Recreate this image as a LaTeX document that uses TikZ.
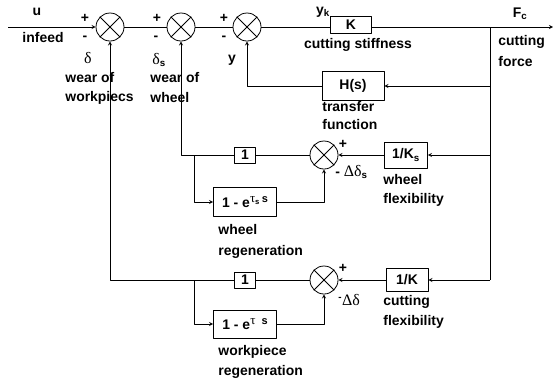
\documentclass[tikz,border=0pt]{standalone}
\usepackage{fontspec}
\setmainfont{Liberation Sans}
\newfontfamily\grk{Liberation Serif}
\newcommand{\gr}[1]{{\grk\mdseries #1}}
\newcommand{\supr}[1]{\raisebox{5bp}{\fontsize{11}{11}\selectfont #1}}
\begin{document}
\begin{tikzpicture}[x=1bp,y=-1bp,>=stealth,line join=round,line width=0.8bp,
  font=\fontsize{14}{15}\selectfont\bfseries,
  sumnode/.style={draw,circle,minimum size=28bp,inner sep=0pt},
  blockbox/.style={draw,inner sep=0pt},
  lbl/.style={inner sep=0pt,anchor=west}]
  \useasboundingbox (0,0) rectangle (553,382);
  % summing points and blocks
  \node[sumnode] (s1) at (110,27) {};
  \node[sumnode] (s2) at (181,27) {};
  \node[sumnode] (s3) at (247,27) {};
  \node[sumnode] (s4) at (324,155) {};
  \node[sumnode] (s5) at (324,280) {};
  \foreach \s in {s1,s2,s3,s4,s5}
    \draw (\s.north west) -- (\s.south east) (\s.north east) -- (\s.south west);
  \node[blockbox,minimum width=41bp,minimum height=17bp] (k) at (351,25) {K};
  \node[blockbox,minimum width=62bp,minimum height=29bp] (h) at (353,86) {H(s)};
  \node[blockbox,minimum width=21bp,minimum height=16bp] (one1) at (245,155) {1};
  \node[blockbox,minimum width=63bp,minimum height=29bp] (reg1) at (245,202) {1 - e\supr{\gr{\fontsize{13}{13}\selectfont τ}\textsubscript{s}\,s}};
  \node[blockbox,minimum width=43bp,minimum height=26bp] (ks) at (406,155) {1/K\textsubscript{s}};
  \node[blockbox,minimum width=21bp,minimum height=16bp] (one2) at (245,280) {1};
  \node[blockbox,minimum width=63bp,minimum height=28bp] (reg2) at (245,324) {1 - e\supr{\gr{\fontsize{13}{13}\selectfont τ}\ \ s}};
  \node[blockbox,minimum width=42bp,minimum height=23bp] (kk) at (407,280) {1/K};
  \coordinate (in) at (8,27);
  \coordinate (out) at (553,27);
  \coordinate (fc) at (490,27);
  \coordinate (hb) at (490,86);
  \coordinate (wb) at (490,155);
  \coordinate (kb) at (490,280);
  \coordinate (b1) at (194,155);
  \coordinate (b2) at (194,280);
  % main path
  \draw[->] (in) -- (s1.west);
  \draw (s1.east) -- (s2.west) (s2.east) -- (s3.west) (s3.east) -- (k.west |- s3);
  \draw[->] (k.east |- fc) -- (out);
  \draw (fc) -- (kb);
  \draw[->] (hb) -- (h.east);
  \draw[->] (h.west) -| (s3.south);
  % wheel loop
  \draw[->] (wb) -- (ks.east);
  \draw[->] (ks.west) -- (s4.east);
  \draw (s4.west) -- (one1.east);
  \draw[->] (one1.west) -| (s2.south);
  \draw[->] (b1) |- (reg1.west);
  \draw[->] (reg1.east) -| (s4.south);
  % workpiece loop
  \draw[->] (kb) -- (kk.east);
  \draw[->] (kk.west) -- (s5.east);
  \draw (s5.west) -- (one2.east);
  \draw[->] (one2.west) -| (s1.south);
  \draw[->] (b2) |- (reg2.west);
  \draw[->] (reg2.east) -| (s5.south);
  % texts
  \node (u) at (37,12) {u};
  \node (infeed) at (43,38) {infeed};
  \node at (85,18) {+};
  \node at (85,38) {-};
  \node (d) at (88,58) {\gr{\fontsize{16}{16}\selectfont δ}};
  \node[lbl] at (65,78) {wear of};
  \node[lbl] at (65,98) {workpiecs};
  \node at (157,18) {+};
  \node at (156,38) {-};
  \node (ds) at (159,60) {\gr{\fontsize{16}{16}\selectfont δ}\textsubscript{s}};
  \node[lbl] at (150,78) {wear of};
  \node[lbl] at (150,98) {wheel};
  \node at (224,18) {+};
  \node at (224,38) {-};
  \node (y) at (232,60) {y};
  \node (yk) at (323,12) {y\textsubscript{k}};
  \node at (358,45) {cutting stiffness};
  \node (fclbl) at (520,14) {F\textsubscript{c}};
  \node[lbl] at (498,42) {cutting};
  \node[lbl] at (498,62) {force};
  \node[lbl] at (322,107) {transfer};
  \node[lbl] at (322,125) {function};
  \node at (343,144) {+};
  \node[lbl] at (335,172) {- \gr{\fontsize{16}{16}\selectfont Δδ}\textsubscript{s}};
  \node[lbl] at (383,180) {wheel};
  \node[lbl] at (383,200) {flexibility};
  \node[lbl] at (218,230) {wheel};
  \node[lbl] at (218,252) {regeneration};
  \node at (343,268) {+};
  \node[lbl] at (338,300) {\textsuperscript{-}\gr{\fontsize{16}{16}\selectfont Δδ}};
  \node[lbl] at (383,302) {cutting};
  \node[lbl] at (383,322) {flexibility};
  \node[lbl] at (218,352) {workpiece};
  \node[lbl] at (218,372) {regeneration};
\end{tikzpicture}
\end{document}
